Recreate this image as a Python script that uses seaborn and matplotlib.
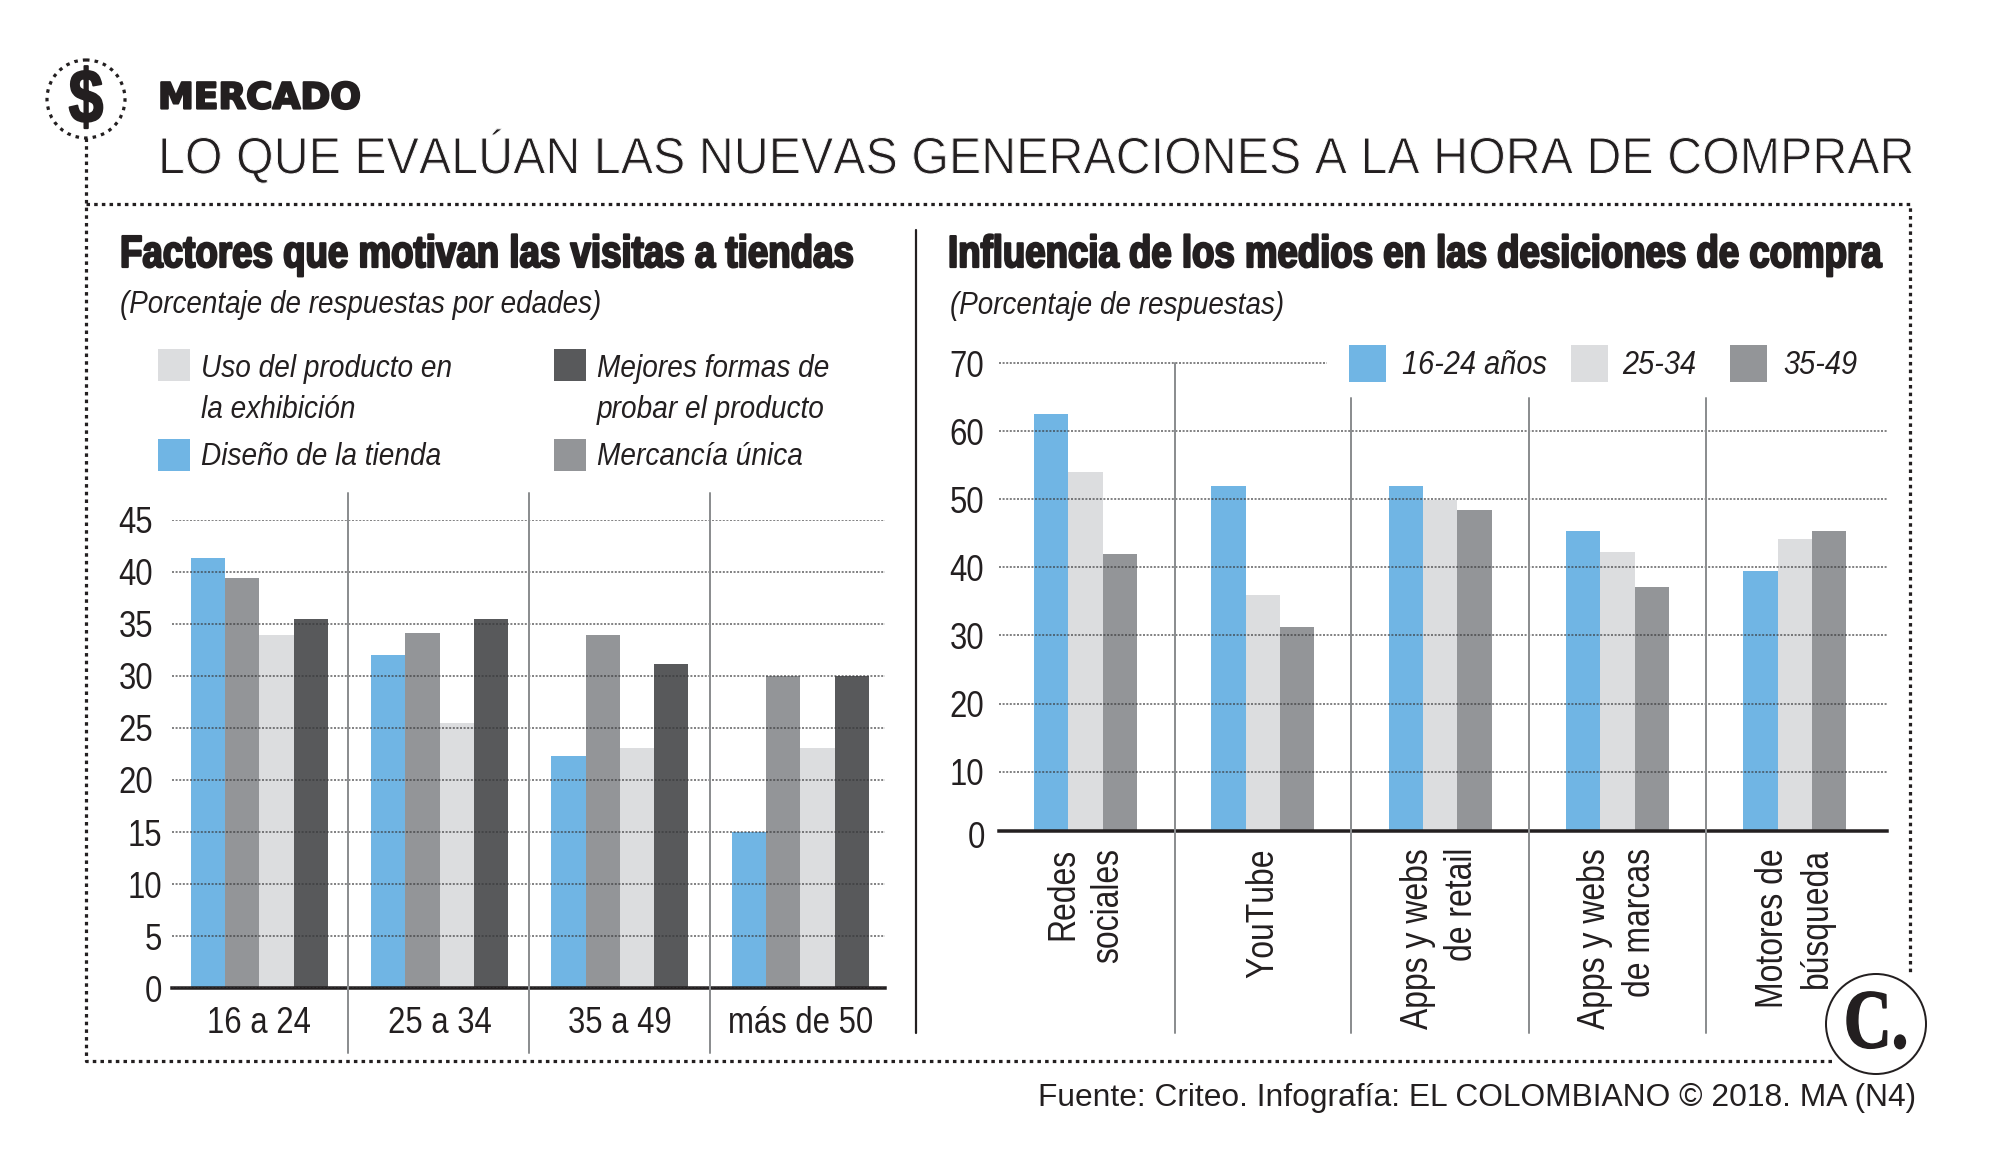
import os
import tempfile

import matplotlib
matplotlib.use('Agg')
import matplotlib.pyplot as plt
import matplotlib.patheffects as pe
from matplotlib import font_manager as fm
from matplotlib.patches import Rectangle, Circle
from fontTools.ttLib import TTFont
from fontTools.ttLib.tables._g_l_y_f import GlyphCoordinates
import pandas as pd
import seaborn as sns

# Left chart
store_ages = ['16 a 24', '25 a 34', '35 a 49', 'más de 50']
store_factors = ['Diseño de la tienda', 'Mercancía única',
                 'Uso del producto en la exhibición',
                 'Mejores formas de probar el producto']
store_design = [41.3, 32.0, 22.3, 15.0]
store_unique = [39.4, 34.1, 33.9, 30.0]
store_usage = [33.9, 25.5, 23.1, 23.1]
store_testing = [35.5, 35.5, 31.2, 30.0]
store_ticks = [0, 5, 10, 15, 20, 25, 30, 35, 40, 45]

# Right chart
media_names = ['Redes\nsociales', 'YouTube', 'Apps y webs\nde retail',
               'Apps y webs\nde marcas', 'Motores de\nbúsqueda']
media_ages = ['16-24 años', '25-34', '35-49']
media_young = [62.5, 52.0, 52.0, 45.4, 39.5]
media_mid = [54.0, 36.0, 49.9, 42.3, 44.1]
media_old = [42.0, 31.2, 48.4, 37.1, 45.4]
media_ticks = [10, 20, 30, 40, 50, 60, 70]

BLUE = '#70B5E4'
LIGHT = '#DCDDDF'
MID = '#939598'
DARK = '#58595B'
INK = '#231F20'
SEP = '#8C8E90'
GRID = '#39393B'

W, H = 2000, 1167
NARROW = 'Sketch Narrow'
SERIF = 'Sketch Serif'
TITLE = 'Sketch Title'


def px(size):
   """Font size in points for a size in pixels at dpi 100."""
   return size * 0.72


def narrow_font(base, family, scale, folder, style='normal', weight='normal'):
   """Squeeze an installed font sideways, no condensed family is available."""
   path = fm.findfont(fm.FontProperties(family=base, style=style, weight=weight))
   font = TTFont(path)
   glyf = font['glyf']
   hmtx = font['hmtx']
   for name in font.getGlyphOrder():
      glyph = glyf[name]
      if glyph.isComposite():
         for comp in glyph.components:
            comp.x = round(comp.x * scale)
      elif glyph.numberOfContours > 0:
         glyph.coordinates = GlyphCoordinates(
            [(round(x * scale), y) for x, y in glyph.coordinates])
      if glyph.numberOfContours != 0:
         glyph.removeHinting()
      width, lsb = hmtx[name]
      hmtx[name] = (round(width * scale), round(lsb * scale))
   for tag in ['fpgm', 'prep', 'cvt ', 'hdmx', 'VDMX', 'LTSH', 'kern', 'GPOS', 'GSUB', 'GDEF']:
      if tag in font:
         del font[tag]
   for rec in font['name'].names:
      if rec.nameID in (1, 16):
         rec.string = family
      elif rec.nameID in (4, 6):
         rec.string = '{}-{}-{}'.format(family.replace(' ', ''), style, weight)
   out = os.path.join(folder, '{}-{}-{}.ttf'.format(family.replace(' ', ''), style, weight))
   font.save(out)
   fm.fontManager.addfont(out)


def make_fonts():
   folder = tempfile.mkdtemp()
   narrow_font('Liberation Sans', NARROW, 0.84, folder)
   narrow_font('Liberation Sans', NARROW, 0.875, folder, style='italic')
   narrow_font('Liberation Sans', NARROW, 0.815, folder, weight='bold')
   narrow_font('Liberation Serif', SERIF, 0.79, folder, weight='bold')
   narrow_font('Liberation Sans', TITLE, 0.94, folder)


def place_axes(fig, left, top, right, bottom):
   return fig.add_axes([left / W, 1 - bottom / H, (right - left) / W, (bottom - top) / H])


def style_axes(ax):
   ax.patch.set_alpha(0)
   sns.despine(ax=ax, left=True)
   ax.spines['bottom'].set_linewidth(px(3.5))
   ax.spines['bottom'].set_color(INK)
   ax.set_xlabel('')
   ax.set_ylabel('')
   ax.set_axisbelow(False)
   ax.yaxis.grid(True, color=GRID, linestyle=(0, (1, 0.8)), linewidth=px(2), alpha=0.62)
   ax.xaxis.grid(False)
   ax.tick_params(axis='both', length=0, labelcolor=INK)


def plot_store(fig):
   ax = place_axes(fig, 172, 520, 885, 988)
   df = pd.DataFrame({'edad': store_ages * 4,
                      'factor': [f for f in store_factors for _ in store_ages],
                      'valor': store_design + store_unique + store_usage + store_testing})
   sns.barplot(data=df, x='edad', y='valor', hue='factor', hue_order=store_factors,
               palette=[BLUE, MID, LIGHT, DARK], width=0.76, gap=0, saturation=1,
               linewidth=0, legend=False, ax=ax)
   ax.set_xlim(-0.485, 3.47)
   ax.set_ylim(0, 45)
   ax.set_yticks(store_ticks)
   style_axes(ax)
   for label in ax.get_xticklabels() + ax.get_yticklabels():
      label.set_fontsize(px(37))
   ax.tick_params(axis='x', pad=px(18))
   for value, tick in zip(store_ticks, ax.yaxis.get_major_ticks()):
      tick.set_pad(px(19) if value >= 20 else px(10))
   return ax


def plot_media(fig):
   ax = place_axes(fig, 999, 363, 1887, 831)
   df = pd.DataFrame({'medio': media_names * 3,
                      'edad': [a for a in media_ages for _ in media_names],
                      'valor': media_young + media_mid + media_old})
   sns.barplot(data=df, x='medio', y='valor', hue='edad', hue_order=media_ages,
               palette=[BLUE, LIGHT, MID], width=0.58, gap=0, saturation=1,
               linewidth=0, legend=False, ax=ax)
   ax.set_xlim(-0.488, 4.52)
   # the axis line of the original sits a little above its zero
   ax.set_ylim(1.28, 70)
   ax.set_yticks(media_ticks)
   style_axes(ax)
   for label in ax.get_yticklabels():
      label.set_fontsize(px(37))
   ax.tick_params(axis='y', pad=px(15))
   ax.tick_params(axis='x', pad=px(17))
   for label in ax.get_xticklabels():
      label.set_fontsize(px(38))
      label.set_rotation(90)
      label.set_ha('center')
      label.set_va('top')
      label.set_multialignment('right')
      label.set_linespacing(1.3)
   # hide the part of the 70 gridline behind the legend
   ax.get_ygridlines()[-1].set_visible(False)
   return ax


def draw_overlay(fig):
   ov = fig.add_axes([0, 0, 1, 1], zorder=10)
   ov.set_xlim(0, W)
   ov.set_ylim(H, 0)
   ov.axis('off')

   def text(x, y, s, size, family=NARROW, ha='left', va='center', heavy=0, **kw):
      t = ov.text(x, y, s, fontsize=px(size), family=family, ha=ha, va=va, color=INK, **kw)
      if heavy:
         t.set_path_effects([pe.withStroke(linewidth=px(heavy), foreground=INK)])
      return t

   # dotted frame
   dots = dict(color=INK, linewidth=px(3.2), linestyle=(0, (1.1, 1.3)), solid_capstyle='butt')
   ov.plot([86, 86, 1832], [138, 1061, 1061], **dots)
   ov.plot([86, 1910, 1910], [204, 204, 975], **dots)
   ov.add_patch(Circle((86, 99), 39, fill=False, edgecolor=INK, linewidth=px(3.2),
                       linestyle=(0, (1.1, 1.6))))
   text(86, 103, '$', 76, ha='center', weight='bold', heavy=2)

   # heading, the big line is thinned with a white outline
   text(158, 98.5, 'MERCADO', 36, family='DejaVu Sans', weight='bold', heavy=2.2)
   main = text(158, 157, 'LO QUE EVALÚAN LAS NUEVAS GENERACIONES A LA HORA DE COMPRAR', 51.5,
               family=TITLE)
   main.set_path_effects([pe.Normal(), pe.Stroke(linewidth=px(1), foreground='white')])

   # panel titles
   text(120, 255.5, 'Factores que motivan las visitas a tiendas', 45, weight='bold', heavy=2.2)
   text(120, 305.5, '(Porcentaje de respuestas por edades)', 31.8, style='italic')
   text(948, 255.5, 'Influencia de los medios en las desiciones de compra', 44.9, weight='bold', heavy=2.2)
   text(950, 306, '(Porcentaje de respuestas)', 31.8, style='italic')

   # left legend
   for x, y, colour in [(158, 349, LIGHT), (158, 439, BLUE), (554, 349, DARK), (554, 439, MID)]:
      ov.add_patch(Rectangle((x, y), 32, 32, facecolor=colour, edgecolor='none'))
   text(201, 369, 'Uso del producto en', 32, style='italic')
   text(201, 410, 'la exhibición', 32, style='italic')
   text(201, 457, store_factors[0], 32, style='italic')
   text(597, 369, 'Mejores formas de', 32, style='italic')
   text(597, 410, 'probar el producto', 32, style='italic')
   text(597, 457, store_factors[1], 32, style='italic')

   # right legend
   for x, colour, label, tx in [(1349, BLUE, media_ages[0], 1402),
                                (1571, LIGHT, media_ages[1], 1622),
                                (1730, MID, media_ages[2], 1783)]:
      ov.add_patch(Rectangle((x, 345), 37, 37, facecolor=colour, edgecolor='none'))
      text(tx, 365.5, label, 33, style='italic')

   # the 70 gridline stops before the legend, and the 0 has no gridline
   ov.plot([999, 1327], [363, 363], color=GRID, linestyle=(0, (1, 0.8)),
           linewidth=px(2), alpha=0.62)
   text(985, 838, '0', 37, ha='right')

   # separators
   ov.plot([916, 916], [230, 1033], color=INK, linewidth=px(2.2))
   for x in [348, 529, 710]:
      ov.plot([x, x], [493, 1053], color=SEP, linewidth=px(2))
   ov.plot([1175, 1175], [363, 1033], color=SEP, linewidth=px(2))
   for x in [1351, 1529, 1706]:
      ov.plot([x, x], [398, 1033], color=SEP, linewidth=px(2))

   # logo and source
   ov.add_patch(Circle((1876, 1024), 50, facecolor='white', edgecolor=INK, linewidth=px(2), zorder=5))
   text(1876, 1027, 'C.', 84, family=SERIF, ha='center', weight='bold', heavy=1.5, zorder=6)
   text(1916, 1098, 'Fuente: Criteo. Infografía: EL COLOMBIANO © 2018. MA (N4)', 31.8,
        family='Liberation Sans', ha='right')


def main():
   make_fonts()
   sns.set_theme(style='white')
   plt.rcParams['font.family'] = [NARROW, 'Liberation Sans']
   fig = plt.figure(figsize=(20, 11.67), dpi=100, facecolor='white')
   plot_store(fig)
   plot_media(fig)
   draw_overlay(fig)
   fig.savefig('out.png', dpi=100)


if __name__ == '__main__':
   main()
